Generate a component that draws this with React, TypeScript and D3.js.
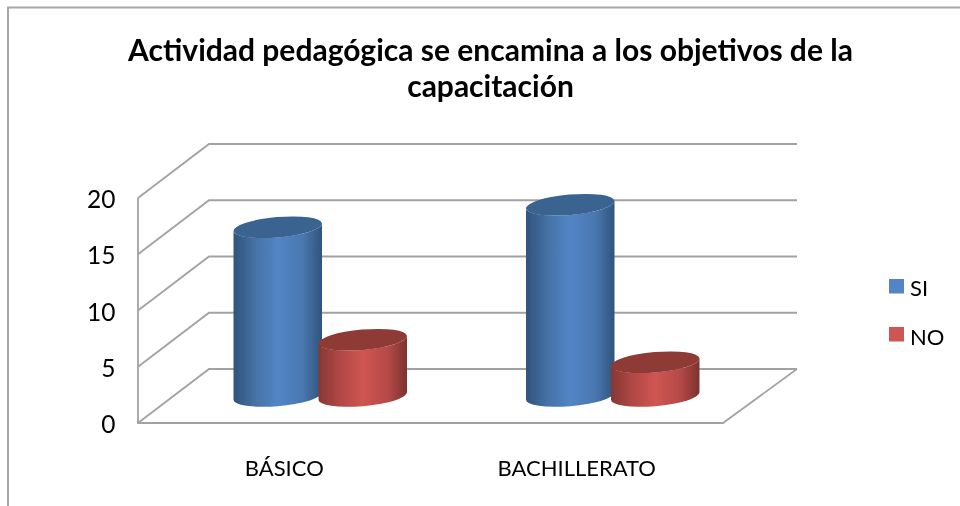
import React from "react";
import * as d3 from "d3";

const titleLines = ["Actividad pedagógica se encamina a los objetivos de la", "capacitación"];
const categories = ["BÁSICO", "BACHILLERATO"];
const seriesNames = ["SI", "NO"];
const siValues = [15, 17];
const noValues = [5, 3];
const yTicks = [0, 5, 10, 15, 20];

const W = 960, H = 506;
const FONT = "Lato, 'Open Sans', sans-serif";
const GRID = "#a2a2a2";
const depth = { x: 71, y: -54 };
const x0 = d3.scaleBand<string>().domain(categories).range([138, 723]);
const y = d3.scaleLinear().domain([0, 20]).range([423, 198]);
const sub = d3.scalePoint<string>().domain(seriesNames).range([-42.5, 42.5]);
const fills: Record<string, { top: string; id: string; stops: string[] }> = {
  SI: { top: "#3b6490", id: "gSI", stops: ["#2f547d", "#4672a6", "#5285c6", "#4a78b0", "#2f547d"] },
  NO: { top: "#8f3a36", id: "gNO", stops: ["#873734", "#b14845", "#cf5552", "#b54a47", "#7d3230"] },
};
const stopAt = [0, 0.25, 0.5, 0.78, 1];

function Cylinder({ cx, base, top, s }: { cx: number; base: number; top: number; s: string }) {
  const a = 44.4, b = 10.2, deg = -5;
  const t = (deg * Math.PI) / 180;
  const hw = Math.sqrt(a * a * Math.cos(t) ** 2 + b * b * Math.sin(t) ** 2);
  const dy = ((a * a - b * b) * Math.abs(Math.sin(t) * Math.cos(t))) / hw;
  const body = `M${cx - hw},${top + dy} L${cx - hw},${base + dy} A${a},${b} ${deg} 0 0 ${cx + hw},${base - dy} L${cx + hw},${top - dy} A${a},${b} ${deg} 0 1 ${cx - hw},${top + dy} Z`;
  return (
    <g>
      <path d={body} fill={`url(#${fills[s].id})`} />
      <ellipse cx={cx} cy={top} rx={a} ry={b} transform={`rotate(${deg} ${cx} ${top})`} fill={fills[s].top} />
    </g>
  );
}

export default function App() {
  const valuesOf: Record<string, number[]> = { SI: siValues, NO: noValues };
  const offX = depth.x / 2 + 0.5, offY = depth.y / 2;
  return (
    <svg width={W} height={H} style={{ position: "fixed", left: 0, top: 0, background: "#fff" }} fontFamily={FONT}>
      <defs>
        {seriesNames.map((s) => (
          <linearGradient key={s} id={fills[s].id} x1="0" x2="1" y1="0" y2="0">
            {fills[s].stops.map((c, i) => (
              <stop key={i} offset={stopAt[i]} stopColor={c} />
            ))}
          </linearGradient>
        ))}
        <filter id="soft" x="0" y="0" width="100%" height="100%" filterUnits="userSpaceOnUse">
          <feGaussianBlur stdDeviation={0.45} />
        </filter>
      </defs>
      <g filter="url(#soft)">
        <path d={`M8,${H} L8,7.5 L${W},7.5`} fill="none" stroke="#a6a6a6" strokeWidth={2} />
        <g fontSize={30} fontWeight={700} fill="#000" textAnchor="middle">
          {titleLines.map((l, i) => (
            <text key={i} x={490.5} y={61 + i * 36}>{l}</text>
          ))}
        </g>
        <g stroke={GRID} strokeWidth={1.8} fill="none">
          {yTicks.map((v) => (
            <path key={v} d={`M138,${y(v)} L${138 + depth.x},${y(v) + depth.y} L797,${y(v) + depth.y}`} />
          ))}
          <path d={`M138,${y(20)} L138,${y(0)} L723,${y(0)} L797,${y(0) + depth.y}`} />
        </g>
        <g fontSize={24.5} fill="#000" textAnchor="end">
          {yTicks.map((v) => (
            <text key={v} x={115.5} y={y(v) + 10}>{v}</text>
          ))}
        </g>
        {categories.map((c, ci) => {
          const center = (x0(c) as number) + x0.bandwidth() / 2;
          return (
            <g key={c}>
              {seriesNames.map((s) => (
                <Cylinder key={s} s={s} cx={center + offX + (sub(s) as number)} base={y(0) + offY} top={y(valuesOf[s][ci]) + offY} />
              ))}
              <text x={center} y={475.5} fontSize={22} fill="#000" textAnchor="middle">{c}</text>
            </g>
          );
        })}
        {seriesNames.map((s, i) => (
          <g key={s}>
            <rect x={889} y={279 + i * 48} width={15} height={14.5} fill={fills[s].stops[2]} />
            <text x={910} y={296 + i * 48.5} fontSize={22} fill="#000">{s}</text>
          </g>
        ))}
      </g>
    </svg>
  );
}
